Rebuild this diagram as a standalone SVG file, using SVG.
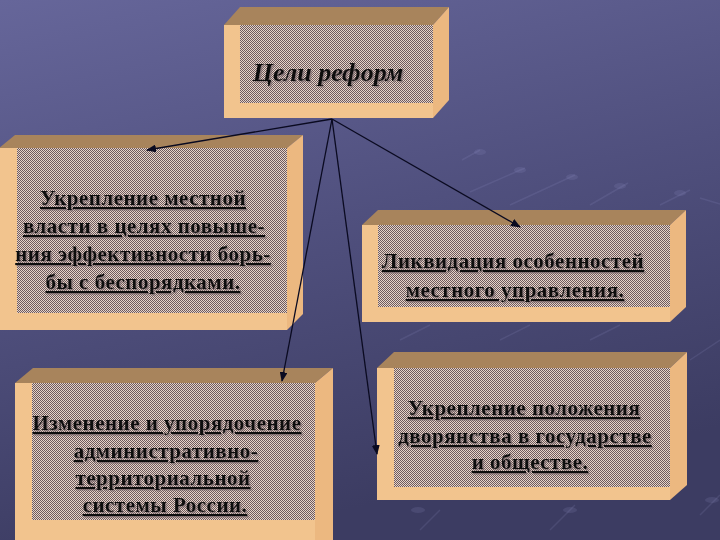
<svg xmlns="http://www.w3.org/2000/svg" width="720" height="540" viewBox="0 0 720 540">
<defs>
  <linearGradient id="bg" x1="0" y1="0" x2="0.3" y2="1">
    <stop offset="0" stop-color="#66669a"/>
    <stop offset="0.5" stop-color="#50507e"/>
    <stop offset="1" stop-color="#3c3c62"/>
  </linearGradient>
  <pattern id="dots" patternUnits="userSpaceOnUse" width="2" height="2">
    <rect width="2" height="2" fill="#e6d4c8"/>
    <rect width="1" height="1" fill="#6e5a5e"/>
    <rect x="1" y="1" width="1" height="1" fill="#6e5a5e"/>
  </pattern>
  <marker id="arr" markerWidth="10" markerHeight="8" refX="9" refY="4" orient="auto" markerUnits="userSpaceOnUse">
    <path d="M0,0 L10,4 L0,8 Z" fill="#0a0a20"/>
  </marker>
  <filter id="sh" x="-5%" y="-20%" width="110%" height="140%">
    <feDropShadow dx="1.5" dy="1.5" stdDeviation="0" flood-color="#7a6a6e" flood-opacity="0.7"/>
  </filter>
  <style>
    .top{fill:#a8845c}
    .side{fill:#ecb880}
    .front{fill:#f2c48e}
    .tex{fill:url(#dots)}
    .t{font-family:"Liberation Serif","Times New Roman",serif;font-weight:bold;font-size:21px;letter-spacing:0.5px;fill:#111;text-anchor:middle;text-decoration:underline;filter:url(#sh)}
    .title{font-family:"Liberation Serif","Times New Roman",serif;font-weight:bold;font-style:italic;font-size:26px;fill:#111;text-anchor:middle;filter:url(#sh)}
    .c{fill:none;stroke:#0a0a20;stroke-width:1.3;marker-end:url(#arr)}
    .deco{stroke:#9a9ad0;stroke-width:1.5;opacity:0.15;fill:none}
    .blob{fill:#9a9ad0;opacity:0.15}
  </style>
</defs>
<rect width="720" height="540" fill="url(#bg)"/>
<g id="decor">
  <path class="deco" d="M462,160 L480,150 M470,192 L525,168 M510,205 L575,175 M590,205 L628,183 M660,205 L690,190 M700,198 L720,204"/>
  <ellipse class="blob" cx="480" cy="152" rx="6" ry="3"/>
  <ellipse class="blob" cx="520" cy="170" rx="6" ry="3"/>
  <ellipse class="blob" cx="572" cy="177" rx="6" ry="3"/>
  <ellipse class="blob" cx="620" cy="186" rx="6" ry="3"/>
  <ellipse class="blob" cx="680" cy="193" rx="6" ry="3"/>
  <path class="deco" d="M400,340 L430,325 M500,340 L530,325 M590,340 L620,325 M690,360 L720,340 M20,390 L60,370 M60,300 L100,285"/>
  <path class="deco" d="M420,530 L440,510 M550,530 L575,505 M700,515 L720,495"/>
  <ellipse class="blob" cx="418" cy="510" rx="7" ry="3"/>
  <ellipse class="blob" cx="570" cy="510" rx="7" ry="3"/>
  <ellipse class="blob" cx="712" cy="500" rx="7" ry="3"/>
</g>
<g id="node-goals">
  <polygon class="top" points="224,25 240,7 449,7 433,25"/>
  <polygon class="side" points="433,25 449,7 449,100 433,118"/>
  <rect class="front" x="224" y="25" width="209" height="93"/>
  <rect class="tex" x="240" y="25" width="193" height="78"/>
  <text class="title" x="328" y="81">Цели реформ</text>
</g>
<g id="node-power">
  <polygon class="top" points="-1,148 15,135 303,135 287,148"/>
  <polygon class="side" points="287,148 303,135 303,314 287,330"/>
  <rect class="front" x="-1" y="148" width="288" height="182"/>
  <rect class="tex" x="17" y="148" width="270" height="165"/>
  <text class="t" x="143" y="205">Укрепление местной</text>
  <text class="t" x="144" y="233">власти в целях повыше-</text>
  <text class="t" x="143" y="261">ния эффективности борь-</text>
  <text class="t" x="143" y="289">бы с беспорядками.</text>
</g>
<g id="node-liquidation">
  <polygon class="top" points="362,225 378,210 686,210 670,225"/>
  <polygon class="side" points="670,225 686,210 686,307 670,322"/>
  <rect class="front" x="362" y="225" width="308" height="97"/>
  <rect class="tex" x="378" y="225" width="292" height="82"/>
  <text class="t" x="513" y="268">Ликвидация особенностей</text>
  <text class="t" x="515" y="297">местного управления.</text>
</g>
<g id="node-admin">
  <polygon class="top" points="15,383 33,368 333,368 315,383"/>
  <polygon class="side" points="315,383 333,368 333,540 315,540"/>
  <rect class="front" x="15" y="383" width="300" height="160"/>
  <rect class="tex" x="32" y="383" width="283" height="137"/>
  <text class="t" x="167" y="430">Изменение и упорядочение</text>
  <text class="t" x="166" y="458">административно-</text>
  <text class="t" x="163" y="485">территориальной</text>
  <text class="t" x="165" y="512">системы России.</text>
</g>
<g id="node-nobility">
  <polygon class="top" points="377,368 394,352 687,352 670,368"/>
  <polygon class="side" points="670,368 687,352 687,485 670,500"/>
  <rect class="front" x="377" y="368" width="293" height="132"/>
  <rect class="tex" x="394" y="368" width="276" height="119"/>
  <text class="t" x="524" y="415">Укрепление положения</text>
  <text class="t" x="525" y="443">дворянства в государстве</text>
  <text class="t" x="530" y="469">и обществе.</text>
</g>
<g id="connectors">
  <line class="c" x1="332" y1="119" x2="147" y2="150"/>
  <line class="c" x1="332" y1="119" x2="520" y2="227"/>
  <line class="c" x1="332" y1="119" x2="282" y2="381"/>
  <line class="c" x1="332" y1="119" x2="377" y2="454"/>
</g>
</svg>
